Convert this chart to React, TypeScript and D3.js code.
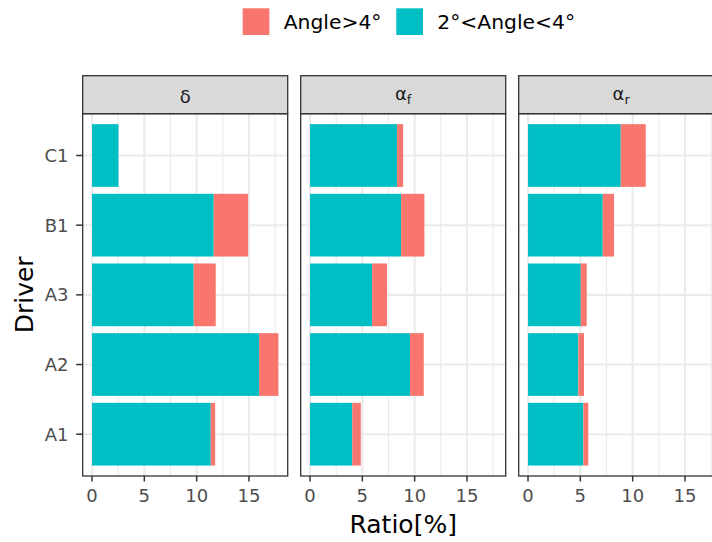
import React from "react";
import * as d3 from "d3";

// drivers, top to bottom as in the chart
const drivers = ["C1", "B1", "A3", "A2", "A1"];

// ratio [%] per driver, one pair of arrays per facet
const deltaMid = [2.53, 11.63, 9.72, 15.97, 11.35];   // 2°<Angle<4°
const deltaHigh = [0, 3.29, 2.1, 1.84, 0.42];          // Angle>4°
const alphaFMid = [8.32, 8.7, 5.93, 9.56, 4.04];
const alphaFHigh = [0.58, 2.23, 1.43, 1.31, 0.81];
const alphaRMid = [8.86, 7.14, 5.04, 4.81, 5.29];
const alphaRHigh = [2.39, 1.08, 0.57, 0.54, 0.47];

const facetBase = ["δ", "α", "α"];
const facetSub = ["", "f", "r"];
const xTicks = [0, 5, 10, 15];
const xMinor = [2.5, 7.5, 12.5, 17.5];
const legendLabels = ["Angle>4°", "2°<Angle<4°"];
const colors = ["#F8766D", "#00BFC4"];

const W = 712, H = 542;
const FONT = "DejaVu Sans";

const App = () => {
    const mids = [deltaMid, alphaFMid, alphaRMid];
    const highs = [deltaHigh, alphaFHigh, alphaRHigh];

    const maxTotal = d3.max(mids.flatMap((m, f) => m.map((v, i) => v + highs[f][i])));

    const panelLeft = 82.7, panelW = 205, gap = 13;
    const panelTop = 113.7, panelBottom = 476, stripTop = 75.7;

    const x = d3.scaleLinear()
        .domain([-0.05 * maxTotal, 1.05 * maxTotal])
        .range([0, panelW]);

    const y = d3.scalePoint()
        .domain(drivers)
        .range([panelTop, panelBottom])
        .padding(0.6);
    const barH = y.step() * 0.9;

    const panels = [0, 1, 2].map(f => {
        const x0 = panelLeft + f * (panelW + gap);
        return (
            <g key={f} transform={`translate(${x0},0)`}>
                <rect x={0} y={panelTop} width={panelW} height={panelBottom - panelTop} fill="white" />
                {xMinor.map(t => (
                    <line key={"mn" + t} x1={x(t)} x2={x(t)} y1={panelTop} y2={panelBottom}
                        stroke="#EBEBEB" strokeWidth={1.1} />
                ))}
                {xTicks.map(t => (
                    <line key={"mj" + t} x1={x(t)} x2={x(t)} y1={panelTop} y2={panelBottom}
                        stroke="#EBEBEB" strokeWidth={2.1} />
                ))}
                {drivers.map(d => (
                    <line key={"h" + d} x1={0} x2={panelW} y1={y(d)} y2={y(d)}
                        stroke="#EBEBEB" strokeWidth={2.1} />
                ))}
                {drivers.map((d, i) => (
                    <g key={"b" + d}>
                        <rect x={x(0)} y={y(d) - barH / 2} width={x(mids[f][i]) - x(0)} height={barH}
                            fill={colors[1]} />
                        {highs[f][i] > 0 && (
                            <rect x={x(mids[f][i])} y={y(d) - barH / 2}
                                width={x(mids[f][i] + highs[f][i]) - x(mids[f][i])} height={barH}
                                fill={colors[0]} />
                        )}
                    </g>
                ))}
                <rect x={0} y={panelTop} width={panelW} height={panelBottom - panelTop}
                    fill="none" stroke="#333333" strokeWidth={1.3} />
                {/* strip */}
                <rect x={0} y={stripTop} width={panelW} height={panelTop - stripTop}
                    fill="#D9D9D9" stroke="#333333" strokeWidth={1.3} />
                <text x={panelW / 2} y={facetSub[f] ? 99.5 : 103} textAnchor="middle"
                    fontFamily={FONT} fontSize={18} fill="#1A1A1A">
                    {facetBase[f]}
                    {facetSub[f] && <tspan fontSize={13} dy={4}>{facetSub[f]}</tspan>}
                </text>
                {/* x axis */}
                {xTicks.map(t => (
                    <g key={"xt" + t}>
                        <line x1={x(t)} x2={x(t)} y1={panelBottom} y2={panelBottom + 5.5}
                            stroke="#333333" strokeWidth={1.5} />
                        <text x={x(t)} y={502} textAnchor="middle" fontFamily={FONT}
                            fontSize={18} fill="#4D4D4D">{t}</text>
                    </g>
                ))}
            </g>
        );
    });

    return (
        <svg width={W} height={H} style={{position: "absolute", left: 0, top: 0}}>
            <rect width={W} height={H} fill="white" />
            {panels}
            {/* y axis */}
            {drivers.map(d => (
                <g key={"yt" + d}>
                    <line x1={panelLeft - 6.5} x2={panelLeft} y1={y(d)} y2={y(d)}
                        stroke="#333333" strokeWidth={1.5} />
                    <text x={68.5} y={y(d)} dy="0.36em" textAnchor="end" fontFamily={FONT}
                        fontSize={18} fill="#4D4D4D">{d}</text>
                </g>
            ))}
            <text transform={`translate(33,${(panelTop + panelBottom) / 2}) rotate(-90)`}
                textAnchor="middle" fontFamily={FONT} fontSize={25} fill="black">Driver</text>
            <text x={panelLeft + (3 * panelW + 2 * gap) / 2} y={533.3} textAnchor="middle"
                fontFamily={FONT} fontSize={25} fill="black">Ratio[%]</text>
            {/* legend */}
            {legendLabels.map((lab, i) => {
                const kx = [242.7, 396.3][i];
                return (
                    <g key={lab}>
                        <rect x={kx} y={8.3} width={26.7} height={26.7} fill={colors[i]} />
                        <text x={kx + 41} y={29.3} fontFamily={FONT} fontSize={20.3} fill="black">{lab}</text>
                    </g>
                );
            })}
        </svg>
    );
};

export default App;
